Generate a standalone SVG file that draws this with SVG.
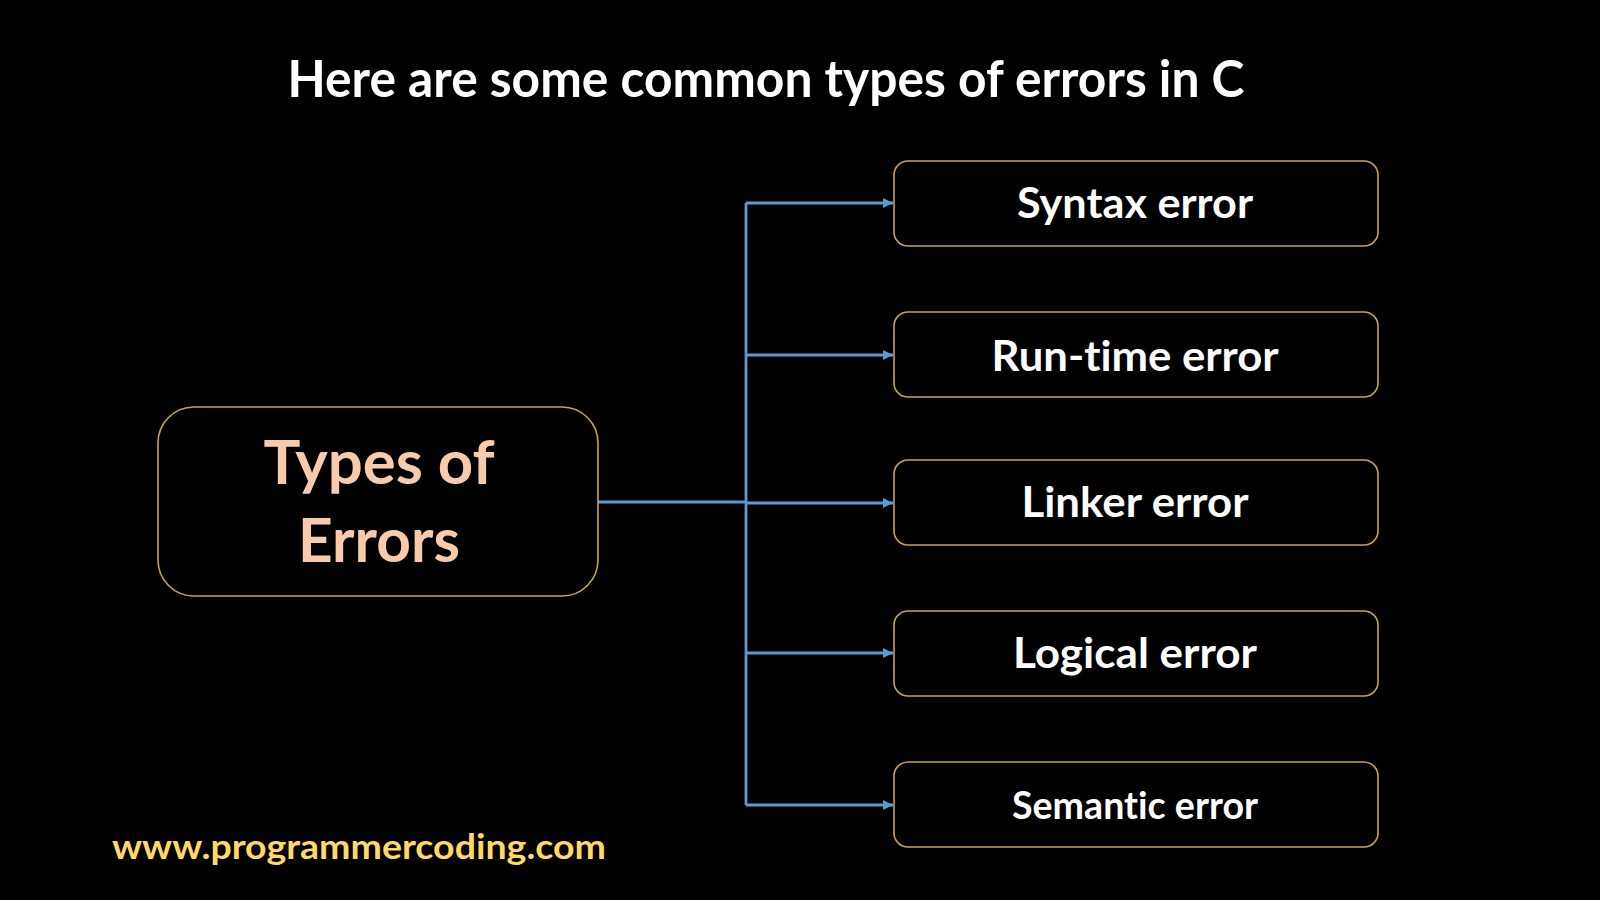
<svg xmlns="http://www.w3.org/2000/svg" width="1600" height="900" viewBox="0 0 1600 900">
<defs>
<style>
.box{fill:#000;stroke:#C9A24D;stroke-width:1.6}
.lbl{font-family:Lato,"Open Sans","Liberation Sans",sans-serif;font-weight:bold;fill:#fff;text-anchor:middle;font-variant-ligatures:none;font-feature-settings:"liga" 0,"clig" 0}
.conn{fill:none;stroke:#5B9BD5;stroke-width:2.8}
</style>
<marker id="ah" markerUnits="userSpaceOnUse" markerWidth="12" markerHeight="10" refX="10" refY="5" orient="auto">
<path d="M0,0 L10,5 L0,10 Z" fill="#5B9BD5"/>
</marker>
</defs>
<rect width="1600" height="900" fill="#000"/>
<text class="lbl" x="766" y="97" font-size="52" textLength="957" lengthAdjust="spacingAndGlyphs">Here are some common types of errors in C</text>

<g id="connectors">
<line class="conn" x1="598" y1="502" x2="746" y2="502"/>
<line class="conn" x1="746" y1="203" x2="746" y2="805"/>
<line class="conn" x1="746" y1="203" x2="893" y2="203" marker-end="url(#ah)"/>
<line class="conn" x1="746" y1="355" x2="893" y2="355" marker-end="url(#ah)"/>
<line class="conn" x1="746" y1="503" x2="893" y2="503" marker-end="url(#ah)"/>
<line class="conn" x1="746" y1="653" x2="893" y2="653" marker-end="url(#ah)"/>
<line class="conn" x1="746" y1="805" x2="893" y2="805" marker-end="url(#ah)"/>
</g>

<g id="types">
<rect class="box" x="158" y="407" width="440" height="189" rx="36"/>
<text class="lbl" x="379" y="484" font-size="61" style="fill:#F8CBAD" textLength="231" lengthAdjust="spacingAndGlyphs">Types of</text>
<text class="lbl" x="379" y="562" font-size="61" style="fill:#F8CBAD" textLength="162" lengthAdjust="spacingAndGlyphs">Errors</text>
</g>

<g id="syntax">
<rect class="box" x="894" y="161" width="484" height="85" rx="14"/>
<text class="lbl" x="1135" y="218" font-size="42" textLength="236" lengthAdjust="spacingAndGlyphs">Syntax error</text>
</g>
<g id="runtime">
<rect class="box" x="894" y="312" width="484" height="85" rx="14"/>
<text class="lbl" x="1135" y="371" font-size="42" textLength="287" lengthAdjust="spacingAndGlyphs">Run-time error</text>
</g>
<g id="linker">
<rect class="box" x="894" y="460" width="484" height="85" rx="14"/>
<text class="lbl" x="1135" y="517" font-size="42" textLength="227" lengthAdjust="spacingAndGlyphs">Linker error</text>
</g>
<g id="logical">
<rect class="box" x="894" y="611" width="484" height="85" rx="14"/>
<text class="lbl" x="1135" y="668" font-size="42" textLength="244" lengthAdjust="spacingAndGlyphs">Logical error</text>
</g>
<g id="semantic">
<rect class="box" x="894" y="762" width="484" height="85" rx="14"/>
<text class="lbl" x="1135" y="819" font-size="38" textLength="246" lengthAdjust="spacingAndGlyphs">Semantic error</text>
</g>

<text class="lbl" x="359" y="859" font-size="35" style="fill:#FFD966" textLength="494" lengthAdjust="spacingAndGlyphs">www.programmercoding.com</text>
</svg>
